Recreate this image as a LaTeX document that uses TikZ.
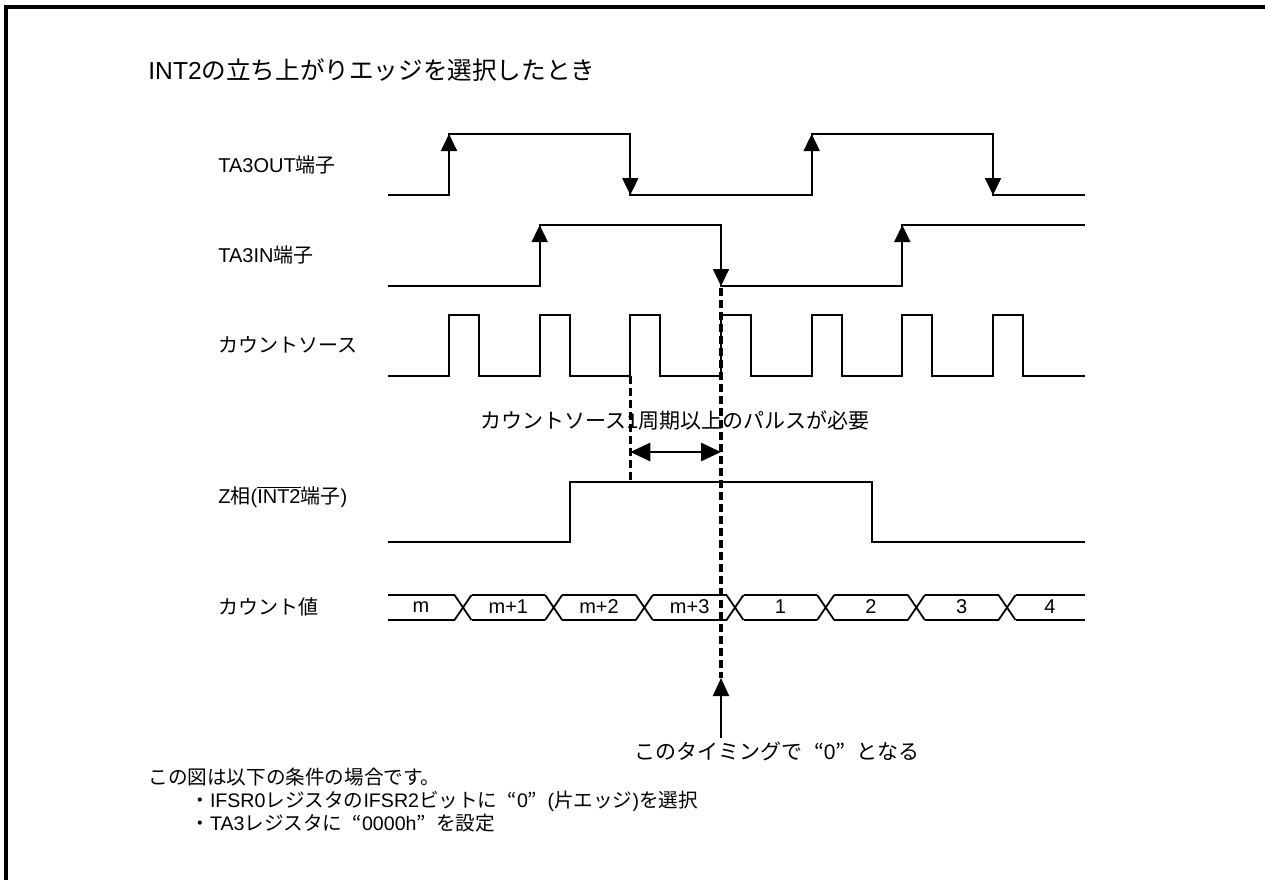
\documentclass[tikz,border=0pt]{standalone}
\usepackage{fontspec}
\setmainfont{Liberation Sans}
\newfontfamily\ja{Noto Sans CJK JP}
\usetikzlibrary{arrows.meta}
\newcommand\J[1]{{\ja #1}}
\newcommand\oq{\makebox[1em][r]{\ja “}}
\newcommand\cq{\makebox[1em][l]{\ja ”}}
\newcommand\ovl[1]{\leavevmode\vbox{\hrule height 0.5pt\kern0.7pt\hbox{#1}}}
\begin{document}
\begin{tikzpicture}[x=0.5pt,y=-0.5pt,
  sig/.style={line width=0.9pt, line join=miter},
  edgearrow/.style={sig,-{Triangle[length=8.5pt,width=8pt]}},
  dline/.style={line width=1.6pt, dash pattern=on 4pt off 2pt},
  bus/.style={line width=0.9pt},
  lbl/.style={anchor=west, inner sep=0pt, font=\fontsize{10}{12}\selectfont},
  val/.style={inner sep=0pt, font=\fontsize{10}{12}\selectfont},
  big/.style={inner sep=0pt, font=\fontsize{10.5}{12}\selectfont},
  note/.style={anchor=west, inner sep=0pt, font=\fontsize{9.8}{11}\selectfont},
  frame/.style={line width=1.6pt}]
\useasboundingbox (0,0) rectangle (1265,880);
% frame
\draw[frame] (6,880) -- (6,7) -- (1265,7);
% title
\node[anchor=west, inner sep=0pt, font=\fontsize{12.3}{14}\selectfont] (title) at (148,70) {INT2\J{の立ち上がりエッジを選択したとき}};
% labels
\node[lbl] (lOut) at (218,165) {TA3OUT\J{端子}};
\node[lbl] (lIn) at (218,255) {TA3IN\J{端子}};
\node[lbl] (lSrc) at (218,345) {\J{カウントソース}};
\node[lbl] (lZ) at (218,497) {Z\J{相}(\ovl{INT2}\J{端子})};
\node[lbl] (lCnt) at (218,607) {\J{カウント値}};
% TA3OUT
\draw[sig] (388,195) -- (449,195) -- (449,134) -- (630.3,134) -- (630.3,195) -- (811.7,195) -- (811.7,134) -- (993,134) -- (993,195) -- (1085,195);
\draw[edgearrow] (449,195) -- (449,134);
\draw[edgearrow] (630.3,134) -- (630.3,195);
\draw[edgearrow] (811.7,195) -- (811.7,134);
\draw[edgearrow] (993,134) -- (993,195);
% TA3IN
\draw[sig] (388,286) -- (539.7,286) -- (539.7,225) -- (721,225) -- (721,286) -- (902.3,286) -- (902.3,225) -- (1085,225);
\draw[edgearrow] (539.7,286) -- (539.7,225);
\draw[edgearrow] (721,225) -- (721,286);
\draw[edgearrow] (902.3,286) -- (902.3,225);
% count source
\draw[sig] (388,376) \foreach \k in {0,...,6}{ -- ({449+\k*90.67},376) -- ++(0,-61) -- ++(30,0) -- ++(0,61)} -- (1085,376);
% Z phase
\draw[sig] (388,542) -- (570,542) -- (570,482) -- (872,482) -- (872,542) -- (1085,542);
% count bus
\draw[bus] (388,595) -- (454.5,595) (388,620) -- (454.5,620);
\foreach \k in {0,...,6}{
  \pgfmathsetmacro\c{463+\k*90.67}
  \draw[bus] (\c-8.5,595) -- (\c+8.5,620) (\c-8.5,620) -- (\c+8.5,595);
}
\foreach \k in {0,...,5}{
  \pgfmathsetmacro\c{463+\k*90.67}
  \draw[bus] (\c+8.5,595) -- (\c+82.17,595) (\c+8.5,620) -- (\c+82.17,620);
}
\draw[bus] (1015.5,595) -- (1085,595) (1015.5,620) -- (1085,620);
\node[val] (v0) at (421,607) {m};
\foreach \t [count=\i] in {m+1,m+2,m+3,1,2,3}{
  \node[val] (v\i) at ({463+(\i-0.5)*90.67},607) {\t};
}
\node[val] (v7) at (1050,607) {4};
% dashed lines
\coordinate (dTop) at (721,288);
\coordinate (dBot) at (721,678);
\draw[dline] (dTop) -- (dBot);
\coordinate (eTop) at (630.3,376);
\coordinate (eBot) at (630.3,482);
\draw[dline] (eTop) -- (eBot);
% width arrow
\coordinate (wL) at (630.3,452);
\coordinate (wR) at (721,452);
\draw[line width=1.4pt, {Triangle[length=10pt,width=9pt]}-{Triangle[length=10pt,width=9pt]}] (wL) -- (wR);
\node[big] (wtxt) at (675,421) {\J{カウントソース}1\J{周期以上のパルスが必要}};
% timing arrow
\coordinate (tTail) at (721,738);
\draw[line width=1pt, -{Triangle[length=9pt,width=8pt]}] (tTail) -- (dBot);
\node[big] (ttxt) at (777,751) {\J{このタイミングで}\oq0\cq\J{となる}};
% notes
\node[note] (n1) at (148,777) {\J{この図は以下の条件の場合です。}};
\node[note] (n2) at (190,801) {\J{・}IFSR0\J{レジスタの}IFSR2\J{ビットに}\oq0\cq(\J{片エッジ})\J{を選択}};
\node[note] (n3) at (190,823) {\J{・}TA3\J{レジスタに}\oq0000h\cq\J{を設定}};
\end{tikzpicture}
\end{document}
